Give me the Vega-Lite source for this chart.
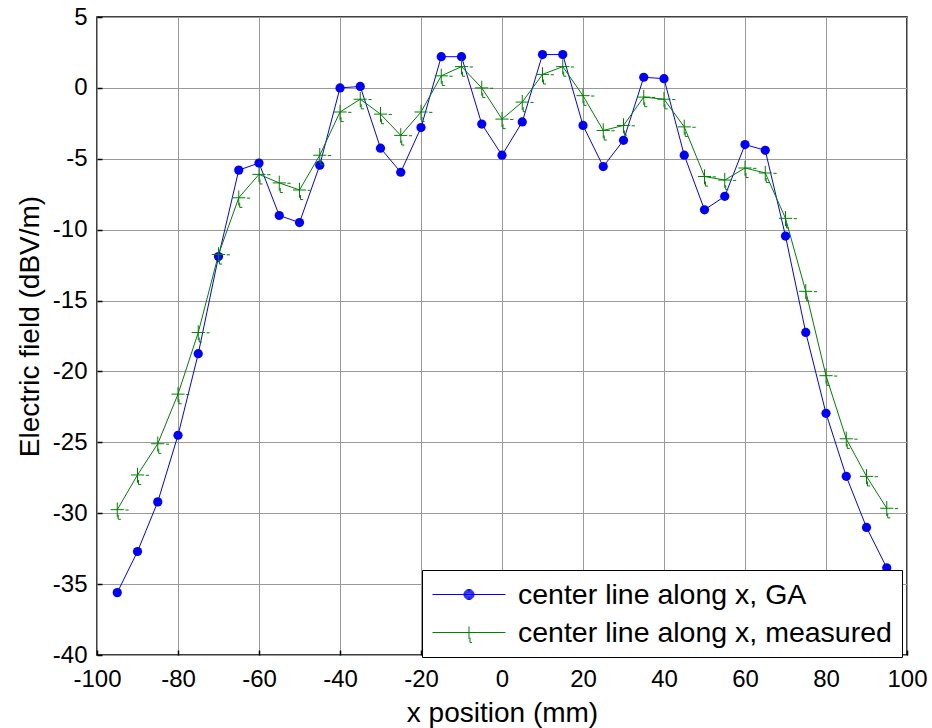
{
  "$schema": "https://vega.github.io/schema/vega-lite/v6.json",
  "width": 810,
  "height": 638,
  "autosize": {"type": "none"},
  "padding": {"left": 97, "top": 17, "right": 25, "bottom": 73},
  "background": "white",
  "config": {
    "font": "Liberation Sans",
    "view": {"stroke": "black", "strokeWidth": 1.5},
    "axis": {
      "grid": true,
      "gridColor": "#9a9a9a",
      "gridWidth": 1,
      "domain": false,
      "ticks": true,
      "tickSize": -5,
      "tickColor": "black",
      "tickWidth": 1.5,
      "labelFont": "Liberation Sans",
      "labelFontSize": 24,
      "labelColor": "black",
      "titleFont": "Liberation Sans",
      "titleFontSize": 28,
      "titleFontWeight": "normal",
      "titleColor": "black",
      "labelFlush": false,
      "labelOverlap": false,
      "labelExpr": "'' + datum.value"
    }
  },
  "data": {
    "values": [
      {"x": -95, "series": "center line along x, GA", "y": -35.6},
      {"x": -90, "series": "center line along x, GA", "y": -32.7},
      {"x": -85, "series": "center line along x, GA", "y": -29.2},
      {"x": -80, "series": "center line along x, GA", "y": -24.5},
      {"x": -75, "series": "center line along x, GA", "y": -18.75},
      {"x": -70, "series": "center line along x, GA", "y": -11.9},
      {"x": -65, "series": "center line along x, GA", "y": -5.8},
      {"x": -60, "series": "center line along x, GA", "y": -5.3},
      {"x": -55, "series": "center line along x, GA", "y": -9.0},
      {"x": -50, "series": "center line along x, GA", "y": -9.5},
      {"x": -45, "series": "center line along x, GA", "y": -5.45},
      {"x": -40, "series": "center line along x, GA", "y": 0.0},
      {"x": -35, "series": "center line along x, GA", "y": 0.1},
      {"x": -30, "series": "center line along x, GA", "y": -4.25},
      {"x": -25, "series": "center line along x, GA", "y": -5.95},
      {"x": -20, "series": "center line along x, GA", "y": -2.8},
      {"x": -15, "series": "center line along x, GA", "y": 2.2},
      {"x": -10, "series": "center line along x, GA", "y": 2.2},
      {"x": -5, "series": "center line along x, GA", "y": -2.55},
      {"x": 0, "series": "center line along x, GA", "y": -4.75},
      {"x": 5, "series": "center line along x, GA", "y": -2.4},
      {"x": 10, "series": "center line along x, GA", "y": 2.35},
      {"x": 15, "series": "center line along x, GA", "y": 2.35},
      {"x": 20, "series": "center line along x, GA", "y": -2.65},
      {"x": 25, "series": "center line along x, GA", "y": -5.55},
      {"x": 30, "series": "center line along x, GA", "y": -3.7},
      {"x": 35, "series": "center line along x, GA", "y": 0.75},
      {"x": 40, "series": "center line along x, GA", "y": 0.65},
      {"x": 45, "series": "center line along x, GA", "y": -4.75},
      {"x": 50, "series": "center line along x, GA", "y": -8.6},
      {"x": 55, "series": "center line along x, GA", "y": -7.65},
      {"x": 60, "series": "center line along x, GA", "y": -4.0},
      {"x": 65, "series": "center line along x, GA", "y": -4.4},
      {"x": 70, "series": "center line along x, GA", "y": -10.45},
      {"x": 75, "series": "center line along x, GA", "y": -17.25},
      {"x": 80, "series": "center line along x, GA", "y": -22.95},
      {"x": 85, "series": "center line along x, GA", "y": -27.4},
      {"x": 90, "series": "center line along x, GA", "y": -31.0},
      {"x": 95, "series": "center line along x, GA", "y": -33.85},
      {"x": -95, "series": "center line along x, measured", "y": -29.75},
      {"x": -90, "series": "center line along x, measured", "y": -27.3},
      {"x": -85, "series": "center line along x, measured", "y": -25.1},
      {"x": -80, "series": "center line along x, measured", "y": -21.6},
      {"x": -75, "series": "center line along x, measured", "y": -17.25},
      {"x": -70, "series": "center line along x, measured", "y": -11.75},
      {"x": -65, "series": "center line along x, measured", "y": -7.75},
      {"x": -60, "series": "center line along x, measured", "y": -6.1},
      {"x": -55, "series": "center line along x, measured", "y": -6.7},
      {"x": -50, "series": "center line along x, measured", "y": -7.2},
      {"x": -45, "series": "center line along x, measured", "y": -4.75},
      {"x": -40, "series": "center line along x, measured", "y": -1.7},
      {"x": -35, "series": "center line along x, measured", "y": -0.8},
      {"x": -30, "series": "center line along x, measured", "y": -1.85},
      {"x": -25, "series": "center line along x, measured", "y": -3.35},
      {"x": -20, "series": "center line along x, measured", "y": -1.7},
      {"x": -15, "series": "center line along x, measured", "y": 0.85},
      {"x": -10, "series": "center line along x, measured", "y": 1.5},
      {"x": -5, "series": "center line along x, measured", "y": 0.0},
      {"x": 0, "series": "center line along x, measured", "y": -2.2},
      {"x": 5, "series": "center line along x, measured", "y": -1.0},
      {"x": 10, "series": "center line along x, measured", "y": 0.95},
      {"x": 15, "series": "center line along x, measured", "y": 1.5},
      {"x": 20, "series": "center line along x, measured", "y": -0.55},
      {"x": 25, "series": "center line along x, measured", "y": -3.0},
      {"x": 30, "series": "center line along x, measured", "y": -2.65},
      {"x": 35, "series": "center line along x, measured", "y": -0.65},
      {"x": 40, "series": "center line along x, measured", "y": -0.8},
      {"x": 45, "series": "center line along x, measured", "y": -2.75},
      {"x": 50, "series": "center line along x, measured", "y": -6.25},
      {"x": 55, "series": "center line along x, measured", "y": -6.5},
      {"x": 60, "series": "center line along x, measured", "y": -5.65},
      {"x": 65, "series": "center line along x, measured", "y": -6.0},
      {"x": 70, "series": "center line along x, measured", "y": -9.2},
      {"x": 75, "series": "center line along x, measured", "y": -14.35},
      {"x": 80, "series": "center line along x, measured", "y": -20.3},
      {"x": 85, "series": "center line along x, measured", "y": -24.75},
      {"x": 90, "series": "center line along x, measured", "y": -27.4},
      {"x": 95, "series": "center line along x, measured", "y": -29.65}
    ]
  },
  "encoding": {
    "x": {
      "field": "x",
      "type": "quantitative",
      "scale": {"domain": [-100, 100], "nice": false, "zero": false},
      "axis": {"values": [-100, -80, -60, -40, -20, 0, 20, 40, 60, 80, 100], "title": "x position (mm)", "labelPadding": 17, "titlePadding": 8}
    },
    "y": {
      "field": "y",
      "type": "quantitative",
      "scale": {"domain": [-40, 5], "nice": false, "zero": false},
      "axis": {"values": [-40, -35, -30, -25, -20, -15, -10, -5, 0, 5], "title": "Electric field (dBV/m)", "labelPadding": 15, "titleX": -67, "titleY": 309, "titleBaseline": "middle"}
    }
  },
  "layer": [
    {
      "transform": [{"filter": "datum.series === 'center line along x, GA'"}],
      "mark": {"type": "line", "color": "#0000ff", "strokeWidth": 1}
    },
    {
      "transform": [{"filter": "datum.series === 'center line along x, measured'"}],
      "mark": {"type": "line", "color": "#008000", "strokeWidth": 1}
    },
    {
      "transform": [{"filter": "datum.series === 'center line along x, GA'"}],
      "mark": {"type": "point", "shape": "circle", "filled": true, "size": 85, "opacity": 1, "color": "#0000ff"}
    },
    {
      "transform": [{"filter": "datum.series === 'center line along x, measured'"}],
      "mark": {"type": "point", "shape": "M-0.55,0H0.55M0,-0.6V0.65M0.68,0.03H0.95M0.08,0.42V0.8H0.3", "filled": false, "size": 576, "strokeWidth": 1, "opacity": 1, "color": "#008000"}
    },
    {
      "transform": [{"filter": "datum.x > 1000"}],
      "mark": {"type": "point", "filled": false, "strokeWidth": 1, "opacity": 1},
      "encoding": {
        "color": {
          "field": "series",
          "type": "nominal",
          "scale": {"domain": ["center line along x, GA", "center line along x, measured"], "range": ["#0000ff", "#008000"]},
          "legend": {
            "orient": "none",
            "legendX": 325,
            "legendY": 553,
            "title": null,
            "labelFont": "Liberation Sans",
            "labelFontSize": 28.5,
            "labelColor": "black",
            "labelLimit": 800,
            "labelOffset": 57,
            "symbolSize": 784,
            "symbolStrokeWidth": 1,
            "symbolOpacity": 1,
            "padding": 10,
            "rowPadding": 9,
            "strokeColor": "black",
            "fillColor": "white",
            "cornerRadius": 0
          }
        },
        "shape": {
          "field": "series",
          "type": "nominal",
          "scale": {
            "domain": ["center line along x, GA", "center line along x, measured"],
            "range": [
              "M-1,0H4.21M1.247,0A0.36,0.36 0 1,0 1.967,0A0.36,0.36 0 1,0 1.247,0M1.307,0A0.3,0.3 0 1,0 1.907,0A0.3,0.3 0 1,0 1.307,0M1.367,0A0.24,0.24 0 1,0 1.847,0A0.24,0.24 0 1,0 1.367,0M1.427,0A0.18,0.18 0 1,0 1.787,0A0.18,0.18 0 1,0 1.427,0M1.487,0A0.12,0.12 0 1,0 1.727,0A0.12,0.12 0 1,0 1.487,0M1.547,0A0.06,0.06 0 1,0 1.667,0A0.06,0.06 0 1,0 1.547,0",
              "M-1,0H4.21M1.177,0H2.037M1.607,-0.43V0.46M2.177,0H2.397M1.677,0.36V0.71H1.817"
            ]
          },
          "legend": null
        }
      }
    }
  ]
}
